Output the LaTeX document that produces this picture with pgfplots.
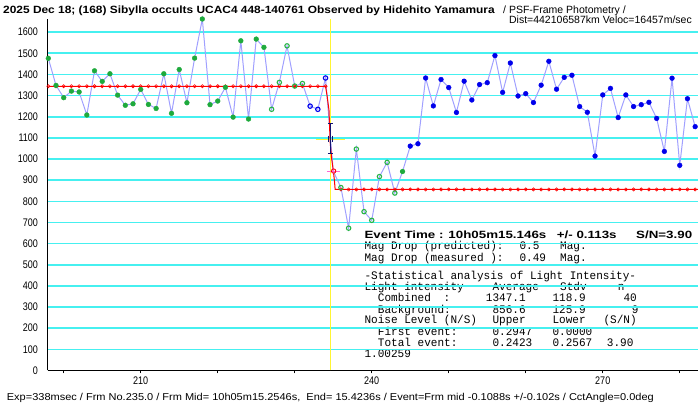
\documentclass[border=0pt]{standalone}
\usepackage{fontspec}
\setmainfont{Liberation Sans}
\newfontfamily\narrow[FakeStretch=0.82]{Liberation Sans}
\newfontfamily\widetitle[FakeStretch=1.135]{Liberation Sans}
\newfontfamily\wideev[FakeStretch=1.27]{Liberation Sans}
\newfontfamily\widefoot[FakeStretch=1.1]{Liberation Sans}
\newfontfamily\mono[FakeStretch=0.96]{Liberation Mono}
\usepackage{pgfplots}
\usepackage{pgfplotstable}
\pgfplotsset{compat=1.18}
\definecolor{gridc}{RGB}{70,240,240}
\definecolor{datal}{RGB}{160,160,255}
\definecolor{gfill}{RGB}{30,170,60}
\definecolor{ghol}{RGB}{40,180,70}
\definecolor{bfill}{RGB}{0,0,235}
\definecolor{navyc}{RGB}{20,20,110}
\definecolor{pinkc}{RGB}{255,100,210}
\definecolor{yel}{RGB}{255,245,50}
\pgfplotstableread{
f v
198 1476
199 1348
200 1290
201 1321
202 1317
203 1208
204 1417
205 1367
206 1403
207 1302
208 1254
209 1261
210 1329
211 1258
212 1239
213 1403
214 1216
215 1423
216 1266
217 1477
218 1662
219 1257
220 1274
221 1339
222 1198
223 1559
224 1189
225 1567
226 1528
227 1235
228 1362
229 1535
230 1345
231 1357
232 1250
233 1235
234 1383
235 943
236 865
237 673
238 1047
239 751
240 710
241 917
242 984
243 839
244 941
245 1061
246 1072
247 1383
248 1251
249 1376
250 1338
251 1220
252 1368
253 1279
254 1352
255 1361
256 1489
257 1315
258 1454
259 1298
260 1309
261 1267
262 1349
263 1462
264 1330
265 1386
266 1396
267 1248
268 1221
269 1014
270 1303
271 1334
272 1196
273 1303
274 1248
275 1257
276 1268
277 1192
278 1036
279 1382
280 970
281 1285
282 1153
}\data
\newcommand\tx[3]{\node[anchor=base west,inner sep=0pt,font=\mono\fontsize{11.5}{11.5}\selectfont] at (#1pt,409pt-#2pt) {#3};}
\begin{document}
\begin{tikzpicture}
\useasboundingbox (0,0) rectangle (698pt,409pt);
% header
\node[anchor=base west,inner sep=0pt,font=\widetitle\bfseries\fontsize{10.5}{12}\selectfont] at (3pt,409pt-13.5pt) {2025 Dec 18; (168) Sibylla occults UCAC4 448-140761 Observed by Hidehito Yamamura};
\node[anchor=base west,inner sep=0pt,font=\fontsize{10.5}{12}\selectfont] at (503pt,409pt-13.5pt) {/ PSF-Frame Photometry /};
\node[anchor=base east,inner sep=0pt,font=\fontsize{10.5}{12}\selectfont] at (692pt,409pt-24pt) {Dist=442106587km Veloc=16457m/sec};
% footer
\node[anchor=base west,inner sep=0pt,font=\widefoot\fontsize{10}{12}\selectfont] at (6.7pt,409pt-401pt) {Exp=338msec / Frm No.235.0 / Frm Mid= 10h05m15.2546s,\ \ End= 15.4236s / Event=Frm mid -0.1088s +/-0.102s / CctAngle=0.0deg};
% statistics box
\node[anchor=base west,inner sep=0pt,font=\wideev\bfseries\fontsize{10.5}{12}\selectfont] at (364.3pt,409pt-239pt) {Event Time : 10h05m15.146s};
\node[anchor=base west,inner sep=0pt,font=\wideev\bfseries\fontsize{10.5}{12}\selectfont] at (556.7pt,409pt-239pt) {+/- 0.113s};
\node[anchor=base west,inner sep=0pt,font=\wideev\bfseries\fontsize{10.5}{12}\selectfont] at (636pt,409pt-239pt) {S/N=3.90};
\tx{364.3}{250}{Mag Drop (predicted):}\tx{519.3}{250}{0.5}\tx{560}{250}{Mag.}
\tx{364.3}{261.3}{Mag Drop (measured ):}\tx{519.3}{261.3}{0.49}\tx{560}{261.3}{Mag.}
\tx{364.3}{280}{-Statistical analysis of Light Intensity-}
\tx{364.3}{290.7}{Light intensity}\tx{492.3}{290.7}{Average}\tx{560}{290.7}{Stdv}\tx{617.7}{290.7}{n}
\tx{377.7}{302}{Combined}\tx{443.3}{302}{:}\tx{485.7}{302}{1347.1}\tx{552.3}{302}{118.9}\tx{623.3}{302}{40}
\tx{377.7}{313.3}{Background:}\tx{492.3}{313.3}{856.6}\tx{552.3}{313.3}{125.9}\tx{631.7}{313.3}{9}
\tx{364.3}{324}{Noise Level (N/S)}\tx{492.3}{324}{Upper}\tx{552.3}{324}{Lower}\tx{603.3}{324}{(S/N)}
\tx{377.7}{335.3}{First event:}\tx{492.3}{335.3}{0.2947}\tx{552.3}{335.3}{0.0000}
\tx{377.7}{347}{Total event:}\tx{492.3}{347}{0.2423}\tx{552.3}{347}{0.2567}\tx{606.7}{347}{3.90}
\tx{364.3}{358}{1.00259}
\begin{axis}[
  at={(47.7pt,38.5pt)}, anchor=south west, scale only axis,
  width=650.3pt, height=351.5pt,
  xmin=197.92, xmax=282.37, ymin=0, ymax=1662,
  axis x line=bottom, axis y line=left,
  axis line style={-, black, line width=1pt},
  clip=false,
  ymajorgrids, grid style={gridc, line width=1.6pt},
  ytick={0,100,...,1600},
  xtick={200,210,...,280},
  xticklabels={,210,,,240,,,270,},
  tick align=outside, major tick length=3pt,
  xtick style={black, line width=0.8pt},
  ytick style={draw=none},
  yticklabel style={font=\narrow\fontsize{11}{11}\selectfont, anchor=east, inner sep=0pt, xshift=-6.5pt, /pgf/number format/1000 sep={}},
  xticklabel style={font=\narrow\fontsize{11}{11}\selectfont, anchor=north, inner sep=0pt, yshift=-3.5pt},
  /pgf/number format/assume math mode=true,
]
% event time marker
\addplot[yel, line width=1.1pt] coordinates {(234.68,0) (234.68,1662)};
\addplot[yel, line width=1.1pt] coordinates {(232.7,1093) (236.5,1093)};
% light curve
\addplot[datal, line width=1pt] table[x=f,y=v] {\data};
% model
\addplot[red, line width=1pt] coordinates {(198,1344) (234,1344) (234.2,1300) (234.45,1230) (234.6,1080) (234.8,1000) (235,948) (235.15,900) (235.25,856) (282.37,856)};
\addplot[only marks, mark=o, mark size=1.6pt, red, mark options={line width=0.6pt, fill=white}] coordinates {
(198,1344)(199,1344)(200,1344)(201,1344)(202,1344)(203,1344)(204,1344)(205,1344)(206,1344)(207,1344)
(208,1344)(209,1344)(210,1344)(211,1344)(212,1344)(213,1344)(214,1344)(215,1344)(216,1344)(217,1344)
(218,1344)(219,1344)(220,1344)(221,1344)(222,1344)(223,1344)(224,1344)(225,1344)(226,1344)(227,1344)
(228,1344)(229,1344)(230,1344)(231,1344)(232,1344)(233,1344)(234,1344)
(236,856)(237,856)(238,856)(239,856)(240,856)(241,856)(242,856)(243,856)(244,856)(245,856)
(246,856)(247,856)(248,856)(249,856)(250,856)(251,856)(252,856)(253,856)(254,856)(255,856)
(256,856)(257,856)(258,856)(259,856)(260,856)(261,856)(262,856)(263,856)(264,856)(265,856)
(266,856)(267,856)(268,856)(269,856)(270,856)(271,856)(272,856)(273,856)(274,856)(275,856)
(276,856)(277,856)(278,856)(279,856)(280,856)(281,856)(282,856)};
% error bar of event time
\addplot[navyc, line width=1pt] coordinates {(234.63,1166) (234.63,1026)};
\addplot[navyc, line width=1pt] coordinates {(234.3,1166) (234.96,1166)};
\addplot[navyc, line width=1pt] coordinates {(234.3,1026) (234.96,1026)};
\addplot[navyc, line width=1pt] coordinates {(234.45,1110) (234.45,1082)};
\addplot[navyc, line width=1pt] coordinates {(234.95,1110) (234.95,1082)};
% event point
\addplot[pinkc, line width=1pt] coordinates {(234.18,943) (235.92,943)};
\addplot[pinkc, line width=1pt] coordinates {(235.05,929) (235.05,957)};
\addplot[only marks, mark=o, mark size=2.2pt, red, mark options={line width=0.9pt}] coordinates {(235.05,943)};
% data markers
\addplot[only marks, mark=*, mark size=2.4pt, gfill] coordinates {
(198,1476)(199,1348)(200,1290)(201,1321)(202,1317)(203,1208)(204,1417)(205,1367)(206,1403)(207,1302)
(208,1254)(209,1261)(210,1329)(211,1258)(212,1239)(213,1403)(214,1216)(215,1423)(216,1266)(217,1477)
(218,1662)(219,1257)(220,1274)(221,1339)(222,1198)(223,1559)(224,1189)(225,1567)(226,1528)(244,941)};
\addplot[only marks, mark=o, mark size=2.2pt, ghol, mark options={line width=1.1pt, fill=white}] coordinates {
(227,1235)(228,1362)(229,1535)(230,1345)(231,1357)
(236,865)(237,673)(238,1047)(239,751)(240,710)(241,917)(242,984)(243,839)};
\addplot[only marks, mark=o, mark size=2.2pt, bfill, mark options={line width=1.1pt, fill=white}] coordinates {
(232,1250)(233,1235)(234,1383)};
\addplot[only marks, mark=*, mark size=2.4pt, bfill] coordinates {
(245,1061)(246,1072)(247,1383)(248,1251)(249,1376)(250,1338)(251,1220)(252,1368)(253,1279)(254,1352)
(255,1361)(256,1489)(257,1315)(258,1454)(259,1298)(260,1309)(261,1267)(262,1349)(263,1462)(264,1330)
(265,1386)(266,1396)(267,1248)(268,1221)(269,1014)(270,1303)(271,1334)(272,1196)(273,1303)(274,1248)
(275,1257)(276,1268)(277,1192)(278,1036)(279,1382)(280,970)(281,1285)(282,1153)};
\end{axis}
\end{tikzpicture}
\end{document}
